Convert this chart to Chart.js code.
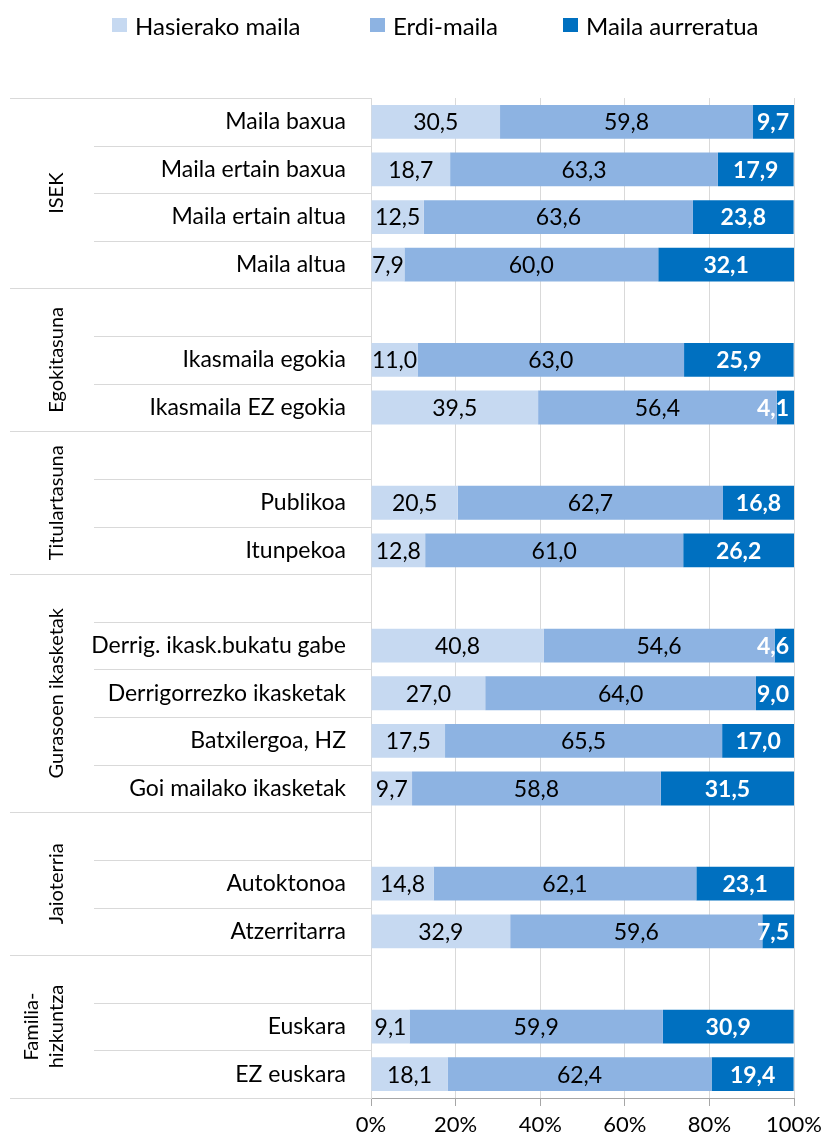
<!DOCTYPE html>
<html>
<head>
<meta charset="utf-8">
<script src="https://cdn.jsdelivr.net/npm/chart.js@4.4.1/dist/chart.umd.min.js"></script>
<style>
    html, body { margin: 0; padding: 0; background: #fff; }
    #wrap { position: relative; width: 828px; height: 1142px; }
    .legende { position: absolute; top: 8px; height: 34px; font-family: Lato, sans-serif; font-size: 24px; color: #000; display: flex; align-items: center; white-space: nowrap; }
    .legende span.carre { display: inline-block; width: 15px; height: 14px; margin-right: 8px; }
</style>
</head>
<body>
<div id="wrap">
    <div id="legendes"></div>
    <canvas id="graphique-niveaux"></canvas>
</div>
<script>
const categories = ["Maila baxua", "Maila ertain baxua", "Maila ertain altua", "Maila altua", "",
    "Ikasmaila egokia", "Ikasmaila EZ egokia", "",
    "Publikoa", "Itunpekoa", "",
    "Derrig. ikask.bukatu gabe", "Derrigorrezko ikasketak", "Batxilergoa, HZ", "Goi mailako ikasketak", "",
    "Autoktonoa", "Atzerritarra", "",
    "Euskara", "EZ euskara"]

const hasierako = [30.5, 18.7, 12.5, 7.9, null, 11.0, 39.5, null, 20.5, 12.8, null, 40.8, 27.0, 17.5, 9.7, null, 14.8, 32.9, null, 9.1, 18.1]
const erdi = [59.8, 63.3, 63.6, 60.0, null, 63.0, 56.4, null, 62.7, 61.0, null, 54.6, 64.0, 65.5, 58.8, null, 62.1, 59.6, null, 59.9, 62.4]
const aurreratua = [9.7, 17.9, 23.8, 32.1, null, 25.9, 4.1, null, 16.8, 26.2, null, 4.6, 9.0, 17.0, 31.5, null, 23.1, 7.5, null, 30.9, 19.4]

const seriesNoms = ["Hasierako maila", "Erdi-maila", "Maila aurreratua"]
const seriesCouleurs = ["#c6d9f1", "#8db3e2", "#0070c0"]

// groupes : libellé (lignes) + premier / dernier index de catégorie
const groupes = [
    { label: ["ISEK"], debut: 0, fin: 3 },
    { label: ["Egokitasuna"], debut: 4, fin: 6 },
    { label: ["Titulartasuna"], debut: 7, fin: 9 },
    { label: ["Gurasoen ikasketak"], debut: 10, fin: 14 },
    { label: ["Jaioterria"], debut: 15, fin: 17 },
    { label: ["Familia-", "hizkuntza"], debut: 18, fin: 20 },
]

const xTicks = [0, 20, 40, 60, 80, 100]

const police = "Lato, sans-serif"

// légende en HTML
const legendePositions = [112, 370, 563]
const conteneurLegende = document.querySelector("#legendes")
for (let i = 0; i < seriesNoms.length; i++) {
    const item = document.createElement("div")
    item.classList.add("legende")
    item.style.left = legendePositions[i] + "px"
    const carre = document.createElement("span")
    carre.classList.add("carre")
    carre.style.background = seriesCouleurs[i]
    const texte = document.createElement("span")
    texte.textContent = seriesNoms[i]
    item.appendChild(carre)
    item.appendChild(texte)
    conteneurLegende.appendChild(item)
}

function formater(v) {
    return v.toFixed(1).replace(".", ",")
}

// lignes de séparation et libellés de groupes à gauche
const groupesPlugin = {
    id: "groupes",
    afterDraw(chart) {
        const ctx = chart.ctx
        const y = chart.scales.y
        const area = chart.chartArea
        const demi = (y.getPixelForValue(1) - y.getPixelForValue(0)) / 2
        const debuts = groupes.map(g => g.debut)

        ctx.save()
        ctx.strokeStyle = "#d9d9d9"
        ctx.lineWidth = 1
        for (let i = 0; i <= categories.length; i++) {
            const py = Math.round(i < categories.length ? y.getPixelForValue(i) - demi : y.getPixelForValue(i - 1) + demi) + 0.5
            const x0 = (debuts.includes(i) || i === categories.length) ? 10 : 94
            ctx.beginPath()
            ctx.moveTo(x0, py)
            ctx.lineTo(area.left, py)
            ctx.stroke()
        }

        ctx.fillStyle = "#000"
        ctx.font = "20px " + police
        ctx.textAlign = "center"
        ctx.textBaseline = "middle"
        for (const g of groupes) {
            const centre = (y.getPixelForValue(g.debut) + y.getPixelForValue(g.fin)) / 2
            ctx.save()
            ctx.translate(44, centre)
            ctx.rotate(-Math.PI / 2)
            const n = g.label.length
            g.label.forEach((ligne, k) => {
                ctx.fillText(ligne, 0, (k - (n - 1) / 2) * 25 + (n === 1 ? 13 : 0))
            })
            ctx.restore()
        }
        ctx.restore()
    }
}

// étiquettes de valeurs sur les barres
const etiquettesPlugin = {
    id: "etiquettes",
    afterDatasetsDraw(chart) {
        const ctx = chart.ctx
        const area = chart.chartArea
        ctx.save()
        ctx.textAlign = "center"
        ctx.textBaseline = "middle"
        chart.data.datasets.forEach((ds, d) => {
            const meta = chart.getDatasetMeta(d)
            const sombre = d === 2
            ctx.font = (sombre ? "bold " : "") + "23px " + police
            ctx.fillStyle = sombre ? "#fff" : "#000"
            meta.data.forEach((bar, i) => {
                const v = ds.data[i]
                if (v === null || v === undefined) return
                const p = bar.getProps(["x", "y", "base"], true)
                const texte = formater(v)
                const w = ctx.measureText(texte).width
                let cx = (p.x + p.base) / 2
                if (cx + w / 2 > area.right - 5) cx = area.right - 5 - w / 2
                ctx.fillText(texte, cx, p.y + 1)
            })
        })
        ctx.restore()
    }
}

const data = {
    labels: categories,
    datasets: [
        { label: seriesNoms[0], data: hasierako, backgroundColor: seriesCouleurs[0] },
        { label: seriesNoms[1], data: erdi, backgroundColor: seriesCouleurs[1] },
        { label: seriesNoms[2], data: aurreratua, backgroundColor: seriesCouleurs[2] },
    ]
}

const config = {
    type: "bar",
    data: data,
    options: {
        indexAxis: "y",
        responsive: true,
        maintainAspectRatio: false,
        animation: false,
        datasets: {
            bar: { barPercentage: 0.71, categoryPercentage: 1 }
        },
        layout: { padding: { top: 98, right: 33, bottom: 0, left: 0 } },
        plugins: {
            legend: { display: false },
            tooltip: { enabled: false },
        },
        scales: {
            x: {
                stacked: true,
                min: 0,
                max: 100,
                afterBuildTicks: (scale) => { scale.ticks = xTicks.map(v => ({ value: v })) },
                afterFit: (scale) => { scale.height = 44 },
                ticks: {
                    color: "#000",
                    font: { family: police, size: 22 },
                    padding: 6,
                    maxRotation: 0,
                    callback: (v) => v + "%",
                },
                grid: { color: "#d9d9d9", tickColor: "#a6a6a6", tickLength: 8 },
                border: { color: "#a6a6a6" },
            },
            y: {
                stacked: true,
                afterFit: (scale) => { scale.width = 371 },
                ticks: {
                    color: "#000",
                    font: { family: police, size: 23 },
                    padding: 25,
                    autoSkip: false,
                },
                grid: { display: true, drawOnChartArea: false, drawTicks: false },
                border: { color: "#d9d9d9" },
            }
        }
    },
    plugins: [groupesPlugin, etiquettesPlugin]
}

const graphiqueNiveaux = new Chart(document.querySelector("#graphique-niveaux"), config)
</script>
</body>
</html>
